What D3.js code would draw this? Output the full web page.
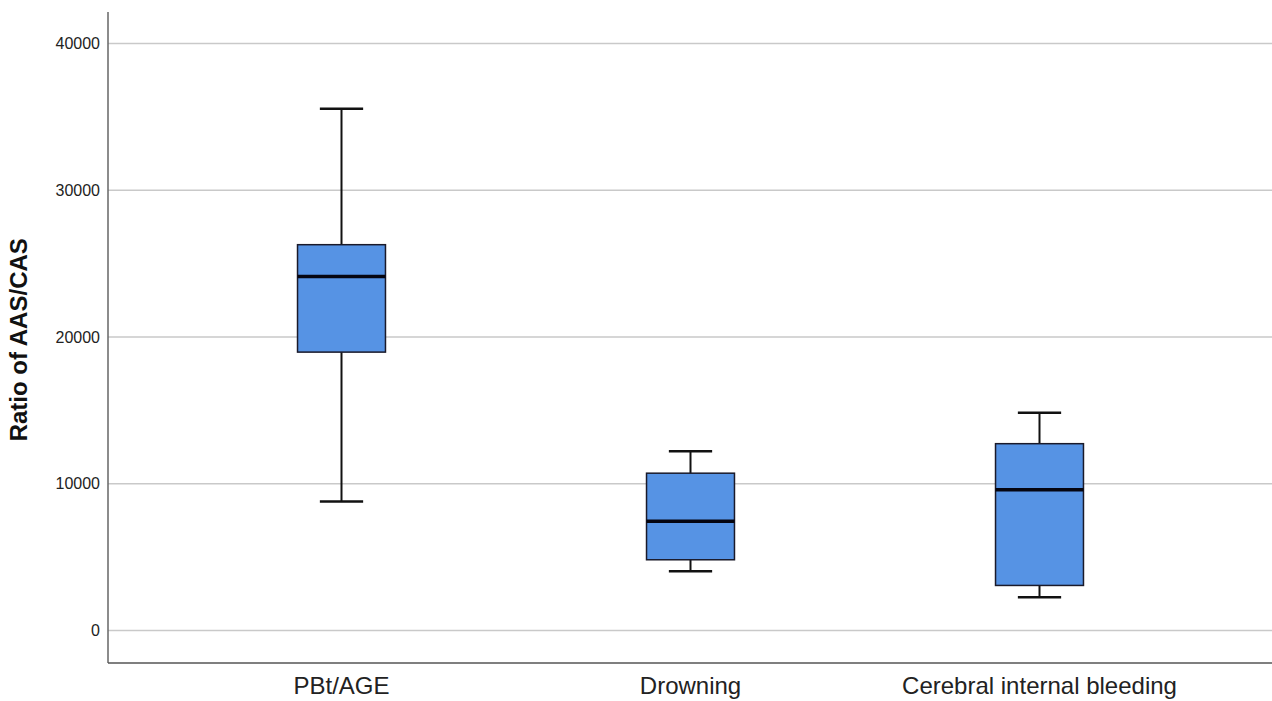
<!DOCTYPE html>
<html>
<head>
<meta charset="utf-8">
<script src="https://cdn.jsdelivr.net/npm/d3@7"></script>
<style>
  body { margin: 0; background: #fff; }
  svg { display: block; font-family: "Liberation Sans", Arial, sans-serif; }
</style>
</head>
<body>
<div id="container"></div>
<script>
// box plot values
const groups = ["PBt/AGE", "Drowning", "Cerebral internal bleeding"];
const whiskerLow = [8790, 4040, 2270];
const q1 = [18970, 4820, 3070];
const median = [24130, 7450, 9590];
const q3 = [26290, 10720, 12730];
const whiskerHigh = [35560, 12220, 14840];
const yTicks = [0, 10000, 20000, 30000, 40000];

const width = 1272;
const height = 701;
const margin = { top: 12, bottom: 38, left: 108, right: 0 };

const svg = d3.select("#container")
    .append("svg")
    .attr("width", width)
    .attr("height", height);

const y = d3.scaleLinear()
    .domain([0, 40000])
    .range([630.5, 43.5]);

const x = d3.scaleBand()
    .domain(groups)
    .range([167, 1214]);

const plotBottom = height - margin.bottom;

// gridlines
svg.append("g")
    .selectAll("line")
    .data(yTicks)
    .join("line")
    .attr("x1", margin.left)
    .attr("x2", width)
    .attr("y1", d => y(d))
    .attr("y2", d => y(d))
    .attr("stroke", "#c9c9c9")
    .attr("stroke-width", 1.5);

// y axis
const yAxis = svg.append("g")
    .attr("transform", `translate(${margin.left},0)`)
    .call(d3.axisLeft(y).tickValues(yTicks).tickSize(0).tickPadding(8).tickFormat(d3.format("d")));
yAxis.select(".domain").remove();
yAxis.selectAll("text")
    .attr("font-size", "16px")
    .attr("fill", "#222")
    .attr("font-family", "Liberation Sans, Arial, sans-serif");

// x axis
const xAxis = svg.append("g")
    .attr("transform", `translate(0,${plotBottom})`)
    .call(d3.axisBottom(x).tickSize(0).tickPadding(14));
xAxis.select(".domain").remove();
xAxis.selectAll("text")
    .attr("font-size", "24px")
    .attr("fill", "#222")
    .attr("font-family", "Liberation Sans, Arial, sans-serif");

// axis lines
svg.append("line")
    .attr("x1", margin.left).attr("x2", margin.left)
    .attr("y1", margin.top).attr("y2", plotBottom)
    .attr("stroke", "#666").attr("stroke-width", 1.5);
svg.append("line")
    .attr("x1", margin.left).attr("x2", width)
    .attr("y1", plotBottom).attr("y2", plotBottom)
    .attr("stroke", "#555").attr("stroke-width", 1.5);

// y axis title
svg.append("text")
    .attr("transform", `translate(27,${(y(-2250) + margin.top) / 2 + 2}) rotate(-90)`)
    .attr("text-anchor", "middle")
    .attr("font-size", "24px")
    .attr("font-weight", "bold")
    .attr("fill", "#111")
    .text("Ratio of AAS/CAS");

const data = groups.map((g, i) => ({
    name: g,
    lo: whiskerLow[i],
    q1: q1[i],
    med: median[i],
    q3: q3[i],
    hi: whiskerHigh[i]
}));

const boxW = x.bandwidth() * 0.252;
const capW = x.bandwidth() * 0.124;

const boxes = svg.append("g")
    .selectAll("g")
    .data(data)
    .join("g")
    .attr("transform", d => `translate(${x(d.name) + x.bandwidth() / 2},0)`);

// whisker stems
boxes.append("line")
    .attr("x1", 0).attr("x2", 0)
    .attr("y1", d => y(d.hi)).attr("y2", d => y(d.q3))
    .attr("stroke", "#111").attr("stroke-width", 2);
boxes.append("line")
    .attr("x1", 0).attr("x2", 0)
    .attr("y1", d => y(d.q1)).attr("y2", d => y(d.lo))
    .attr("stroke", "#111").attr("stroke-width", 2);

// caps
boxes.append("line")
    .attr("x1", -capW / 2).attr("x2", capW / 2)
    .attr("y1", d => y(d.hi)).attr("y2", d => y(d.hi))
    .attr("stroke", "#111").attr("stroke-width", 2.5);
boxes.append("line")
    .attr("x1", -capW / 2).attr("x2", capW / 2)
    .attr("y1", d => y(d.lo)).attr("y2", d => y(d.lo))
    .attr("stroke", "#111").attr("stroke-width", 2.5);

// boxes
boxes.append("rect")
    .attr("x", -boxW / 2)
    .attr("width", boxW)
    .attr("y", d => y(d.q3))
    .attr("height", d => y(d.q1) - y(d.q3))
    .attr("fill", "#5693e4")
    .attr("stroke", "#1a1a2a")
    .attr("stroke-width", 1.5);

// medians
boxes.append("line")
    .attr("x1", -boxW / 2).attr("x2", boxW / 2)
    .attr("y1", d => y(d.med)).attr("y2", d => y(d.med))
    .attr("stroke", "#050510").attr("stroke-width", 3.5);
</script>
</body>
</html>
